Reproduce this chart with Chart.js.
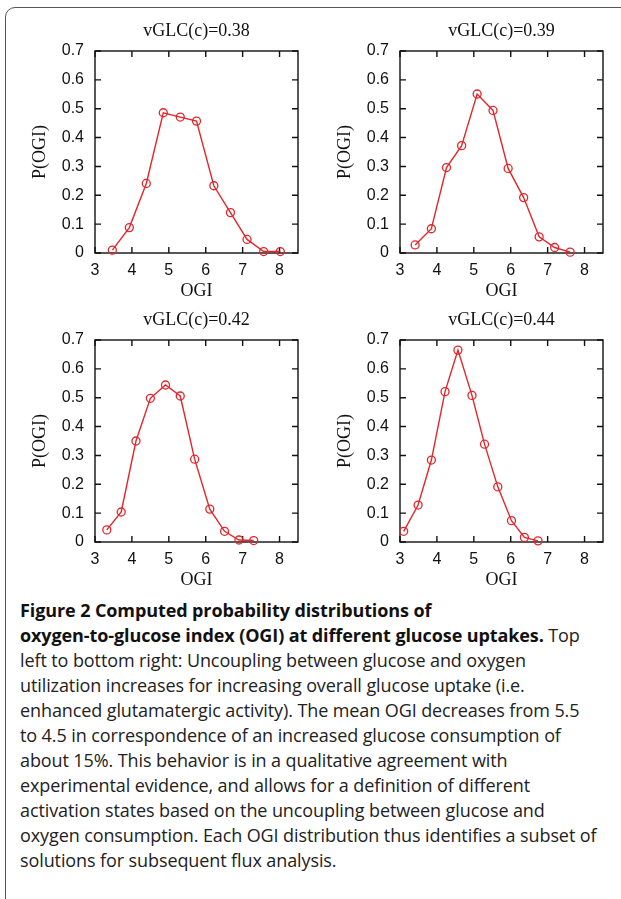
<!DOCTYPE html>
<html>
<head>
<meta charset="utf-8">
<script src="https://cdn.jsdelivr.net/npm/chart.js@4"></script>
<style>
  html, body { margin: 0; padding: 0; background: #fff; }
  body { width: 621px; height: 899px; position: relative; overflow: hidden; }
  .frame { position: absolute; left: 5px; top: 7px; width: 700px; height: 1000px;
           border: 1.5px solid #555; border-radius: 10px; }
  .panel { position: absolute; width: 310px; height: 300px; }
  .caption { position: absolute; left: 20px; top: 598px; width: 600px;
             font-family: "Open Sans", Lato, sans-serif; font-size: 18px; line-height: 25px;
             color: #222; white-space: nowrap; letter-spacing: -0.1px; }
  .caption b { color: #111; }
</style>
</head>
<body>
<div class="frame"></div>
<div class="panel" style="left:0;top:0"><canvas id="c1" width="310" height="300"></canvas></div>
<div class="panel" style="left:305px;top:0"><canvas id="c2" width="310" height="300"></canvas></div>
<div class="panel" style="left:0;top:289px"><canvas id="c3" width="310" height="300"></canvas></div>
<div class="panel" style="left:305px;top:289px"><canvas id="c4" width="310" height="300"></canvas></div>
<div class="caption">
<b>Figure 2 Computed probability distributions of</b><br>
<b>oxygen-to-glucose index (OGI) at different glucose uptakes.</b> Top<br>
left to bottom right: Uncoupling between glucose and oxygen<br>
utilization increases for increasing overall glucose uptake (i.e.<br>
enhanced glutamatergic activity). The mean OGI decreases from 5.5<br>
to 4.5 in correspondence of an increased glucose consumption of<br>
about 15%. This behavior is in a qualitative agreement with<br>
experimental evidence, and allows for a definition of different<br>
activation states based on the uncoupling between glucose and<br>
oxygen consumption. Each OGI distribution thus identifies a subset of<br>
solutions for subsequent flux analysis.
</div>
<script>
// panel titles
const titles = ['vGLC(c)=0.38', 'vGLC(c)=0.39', 'vGLC(c)=0.42', 'vGLC(c)=0.44'];

// tick labels
const xTicks = [3, 4, 5, 6, 7, 8];
const yTicks = [0, 0.1, 0.2, 0.3, 0.4, 0.5, 0.6, 0.7];

// OGI values and probabilities
const ogi38 = [3.47, 3.93, 4.39, 4.85, 5.31, 5.75, 6.22, 6.67, 7.12, 7.57, 8.02];
const p38   = [0.010, 0.088, 0.241, 0.486, 0.471, 0.457, 0.233, 0.140, 0.047, 0.005, 0.005];

const ogi39 = [3.41, 3.85, 4.26, 4.67, 5.09, 5.52, 5.93, 6.35, 6.77, 7.19, 7.61];
const p39   = [0.028, 0.084, 0.296, 0.372, 0.551, 0.494, 0.293, 0.192, 0.056, 0.019, 0.003];

const ogi42 = [3.32, 3.71, 4.11, 4.50, 4.91, 5.31, 5.70, 6.11, 6.51, 6.90, 7.30];
const p42   = [0.042, 0.104, 0.350, 0.498, 0.544, 0.506, 0.287, 0.114, 0.037, 0.007, 0.005];

const ogi44 = [3.10, 3.49, 3.85, 4.22, 4.57, 4.95, 5.29, 5.65, 6.02, 6.37, 6.74];
const p44   = [0.037, 0.128, 0.284, 0.521, 0.665, 0.508, 0.339, 0.191, 0.074, 0.016, 0.004];

const RED = '#e3262b';
const serif = '"Liberation Serif", "DejaVu Serif", serif';
const sans = '"Liberation Sans", Arial, sans-serif';

// box round the plot with inward ticks on all four sides
const boxTicks = {
  id: 'boxTicks',
  beforeDatasetsDraw(chart) {
    const {ctx, chartArea: a, scales: {x, y}} = chart;
    const len = 6;
    ctx.save();
    ctx.strokeStyle = '#111';
    ctx.lineWidth = 1.4;
    ctx.strokeRect(a.left, a.top, a.right - a.left, a.bottom - a.top);
    ctx.beginPath();
    x.ticks.forEach(t => {
      const px = x.getPixelForValue(t.value);
      ctx.moveTo(px, a.bottom); ctx.lineTo(px, a.bottom - len);
      ctx.moveTo(px, a.top); ctx.lineTo(px, a.top + len);
    });
    y.ticks.forEach(t => {
      const py = y.getPixelForValue(t.value);
      ctx.moveTo(a.left, py); ctx.lineTo(a.left + len, py);
      ctx.moveTo(a.right, py); ctx.lineTo(a.right - len, py);
    });
    ctx.stroke();
    ctx.restore();
  }
};

const makeChart = (id, title, xs, ys) => {
  const pts = xs.map((v, i) => ({x: v, y: ys[i]}));
  new Chart(document.getElementById(id), {
    type: 'line',
    data: {
      datasets: [{
        data: pts,
        borderColor: RED,
        borderWidth: 1.4,
        pointStyle: 'circle',
        pointRadius: 4,
        pointBorderWidth: 1.3,
        pointBorderColor: RED,
        pointBackgroundColor: 'rgba(0,0,0,0)',
        tension: 0,
        clip: false
      }]
    },
    options: {
      responsive: false,
      animation: false,
      layout: {padding: {left: 0, right: 12, top: 0, bottom: 0}},
      plugins: {
        legend: {display: false},
        tooltip: {enabled: false}
      },
      scales: {
        x: {
          type: 'linear',
          min: 3, max: 8.5,
          afterBuildTicks: s => { s.ticks = xTicks.map(v => ({value: v})); },
          afterFit: s => { s.height = 47; },
          grid: {display: false, drawTicks: false},
          border: {display: false},
          ticks: {color: '#111', font: {family: sans, size: 16}, padding: 8,
                  maxRotation: 0, callback: v => String(v)},
          title: {display: true, text: 'OGI', color: '#111',
                  font: {family: serif, size: 18, lineHeight: 1}, padding: {top: 0, bottom: 0}}
        },
        // top axis only carries the panel title, centred over the plot box
        top: {
          type: 'linear',
          position: 'top',
          min: 3, max: 8.5,
          afterFit: s => { s.height = 51; },
          grid: {display: false, drawTicks: false},
          border: {display: false},
          ticks: {display: false},
          title: {display: true, text: title, color: '#111',
                  font: {family: serif, size: 18, lineHeight: 1.2}, padding: {top: 20, bottom: 0}}
        },
        y: {
          min: 0, max: 0.7,
          afterBuildTicks: s => { s.ticks = yTicks.map(v => ({value: v})); },
          afterFit: s => { s.width = 95; },
          grid: {display: false, drawTicks: false},
          border: {display: false},
          ticks: {color: '#111', font: {family: sans, size: 16}, padding: 11,
                  callback: v => v === 0 ? '0' : v.toFixed(1)},
          title: {display: true, text: 'P(OGI)', color: '#111',
                  font: {family: serif, size: 18, lineHeight: 1.2}, padding: {top: 29, bottom: 0}}
        }
      }
    },
    plugins: [boxTicks]
  });
};

makeChart('c1', titles[0], ogi38, p38);
makeChart('c2', titles[1], ogi39, p39);
makeChart('c3', titles[2], ogi42, p42);
makeChart('c4', titles[3], ogi44, p44);
</script>
</body>
</html>
